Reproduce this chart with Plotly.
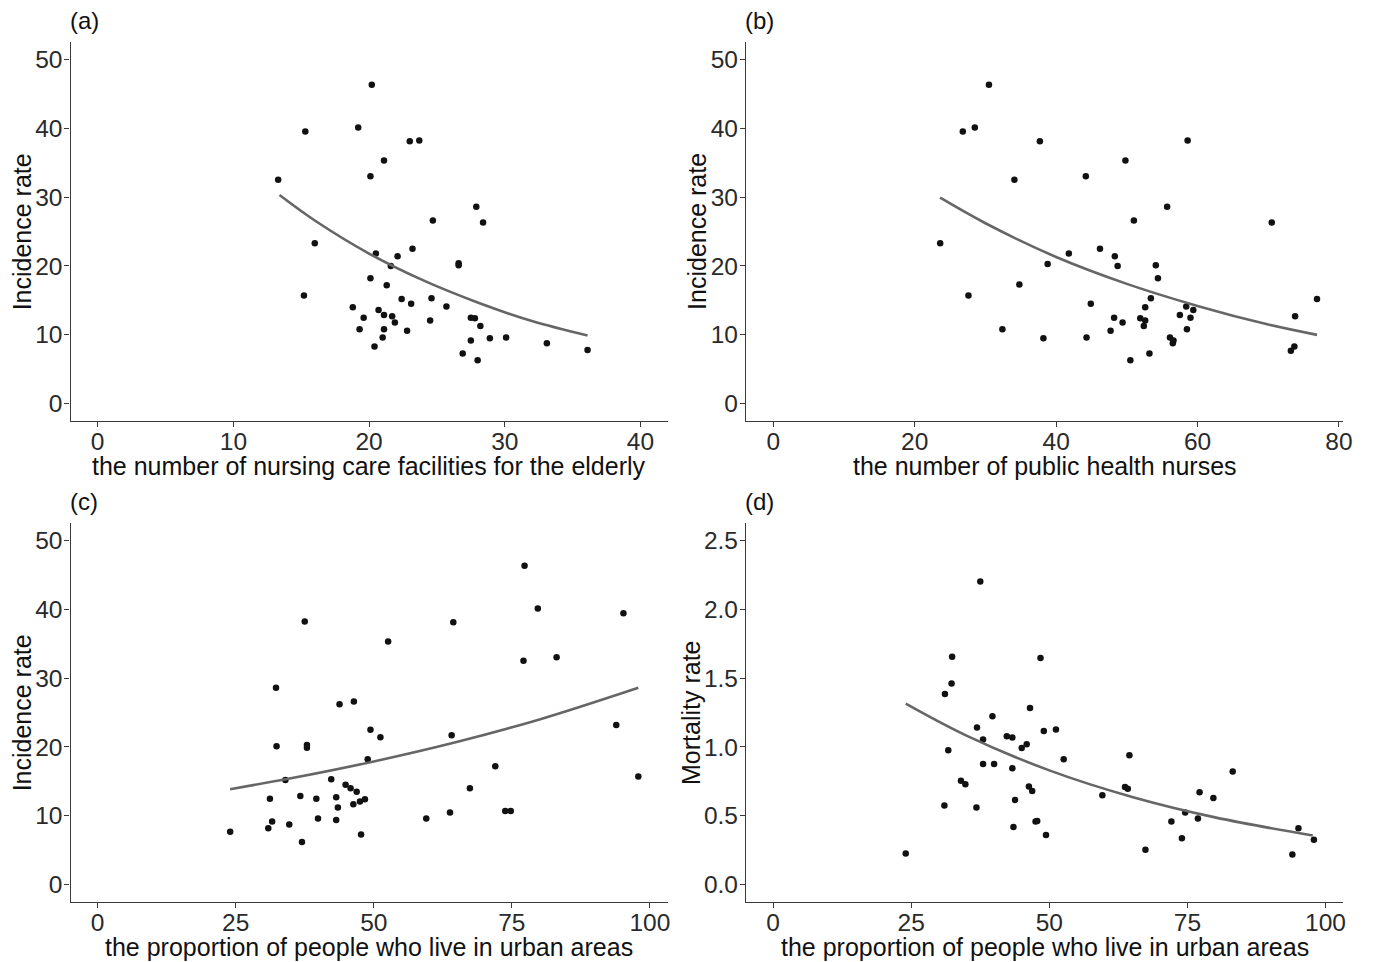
import plotly.graph_objects as go

# ---------------- data ----------------
# (a) nursing care facilities vs incidence rate
a_x = [20.2, 15.3, 19.2, 23.0, 23.7, 21.1, 20.1, 13.3, 27.9, 28.4, 24.7, 16.0, 20.5, 22.1,
       23.2, 21.6, 26.6, 26.6, 20.1, 21.3, 15.2, 22.4, 23.1, 24.6, 25.7, 18.8, 19.6, 20.7,
       21.1, 21.7, 21.9, 19.3, 21.1, 21.0, 20.4, 22.8, 24.5, 27.5, 27.8, 28.2, 27.5, 28.9,
       30.1, 26.9, 28.0, 33.1, 36.1]
a_y = [46.3, 39.5, 40.1, 38.1, 38.2, 35.3, 33.0, 32.5, 28.6, 26.3, 26.6, 23.3, 21.8, 21.4,
       22.5, 20.0, 20.4, 20.1, 18.2, 17.2, 15.7, 15.2, 14.5, 15.3, 14.1, 14.0, 12.5, 13.6,
       12.9, 12.7, 11.8, 10.8, 10.8, 9.6, 8.3, 10.6, 12.1, 12.5, 12.4, 11.3, 9.2, 9.5,
       9.6, 7.3, 6.3, 8.8, 7.8]
a_curve_x = [13.4, 16.0, 20.0, 24.0, 28.0, 32.0, 36.1]
a_curve_y = [30.3, 26.6, 21.8, 17.9, 14.7, 12.0, 9.9]

# (b) public health nurses vs incidence rate
b_x = [30.5, 26.8, 28.5, 37.7, 58.6, 49.8, 44.2, 34.1, 55.7, 70.5, 51.0, 23.6, 41.8, 46.2,
       48.3, 38.8, 54.1, 48.7, 54.4, 34.8, 27.6, 76.9, 53.4, 44.9, 52.6, 58.4, 59.4, 57.5,
       59.0, 73.8, 48.2, 51.9, 52.6, 49.4, 52.4, 32.4, 58.5, 47.7, 38.2, 44.3, 56.1, 56.6,
       56.5, 73.7, 73.2, 53.2, 50.5]
b_y = [46.3, 39.5, 40.1, 38.1, 38.2, 35.3, 33.0, 32.5, 28.6, 26.3, 26.6, 23.3, 21.8, 22.5,
       21.4, 20.3, 20.1, 20.0, 18.2, 17.3, 15.7, 15.2, 15.3, 14.5, 14.0, 14.1, 13.6, 12.9,
       12.5, 12.7, 12.5, 12.4, 12.1, 11.8, 11.3, 10.8, 10.8, 10.6, 9.5, 9.6, 9.6, 9.2,
       8.8, 8.3, 7.7, 7.3, 6.3]
b_curve_x = [23.6, 30.0, 40.0, 50.0, 60.0, 70.0, 76.9]
b_curve_y = [29.9, 26.2, 21.3, 17.4, 14.2, 11.5, 10.0]

# (c) urban proportion vs incidence rate
c_x = [77.3, 79.7, 95.2, 37.5, 64.4, 52.6, 83.1, 77.1, 32.3, 46.4, 43.8, 93.9, 49.4, 64.1,
       51.2, 32.4, 37.9, 37.9, 48.9, 72.0, 97.9, 34.0, 42.3, 44.9, 45.8, 46.9, 67.4, 31.2,
       36.7, 39.6, 43.2, 48.4, 47.5, 46.3, 43.5, 73.8, 74.8, 63.8, 39.9, 43.2, 59.5, 31.6,
       34.7, 30.9, 24.0, 47.7, 37.0]
c_y = [46.3, 40.1, 39.4, 38.2, 38.1, 35.3, 33.0, 32.5, 28.6, 26.6, 26.2, 23.2, 22.5, 21.7,
       21.4, 20.1, 20.3, 19.9, 18.2, 17.2, 15.7, 15.2, 15.3, 14.5, 14.0, 13.5, 14.0, 12.5,
       12.9, 12.5, 12.7, 12.4, 12.1, 11.7, 11.2, 10.7, 10.7, 10.5, 9.6, 9.4, 9.6, 9.2,
       8.75, 8.2, 7.7, 7.3, 6.2]
c_curve_x = [24.0, 35.0, 50.0, 65.0, 80.0, 97.9]
c_curve_y = [13.87, 15.45, 17.9, 20.72, 24.0, 28.6]

# (d) urban proportion vs mortality rate
d_x = [37.5, 32.4, 48.4, 32.3, 31.1, 46.5, 39.7, 49.0, 51.2, 36.9, 38.0, 42.3, 43.3, 45.9,
       45.0, 31.7, 64.5, 52.6, 38.0, 40.0, 43.3, 83.2, 34.0, 34.8, 63.7, 64.2, 46.3, 46.9,
       77.2, 59.6, 79.7, 43.8, 31.0, 36.8, 74.6, 76.9, 72.1, 47.5, 47.8, 43.5, 95.1, 49.4,
       74.0, 97.9, 67.4, 24.0, 94.0]
d_y = [2.20, 1.655, 1.645, 1.46, 1.384, 1.283, 1.222, 1.116, 1.126, 1.141, 1.054, 1.078,
       1.068, 1.02, 0.993, 0.976, 0.94, 0.911, 0.877, 0.877, 0.846, 0.822, 0.754, 0.730,
       0.710, 0.696, 0.713, 0.681, 0.672, 0.65, 0.63, 0.616, 0.575, 0.561, 0.525, 0.481,
       0.459, 0.459, 0.462, 0.42, 0.411, 0.362, 0.338, 0.326, 0.254, 0.227, 0.22]
d_curve_x = [24.0, 35.0, 50.0, 65.0, 80.0, 97.7]
d_curve_y = [1.314, 1.082, 0.830, 0.637, 0.489, 0.358]

panel_labels = ["(a)", "(b)", "(c)", "(d)"]
x_titles = ["the number of nursing care facilities for the elderly",
            "the number of public health nurses",
            "the proportion of people who live in urban areas",
            "the proportion of people who live in urban areas"]
y_titles = ["Incidence rate", "Incidence rate", "Incidence rate", "Mortality rate"]
x_ticks = [[0, 10, 20, 30, 40], [0, 20, 40, 60, 80], [0, 25, 50, 75, 100], [0, 25, 50, 75, 100]]
y_ticks = [[0, 10, 20, 30, 40, 50]] * 3 + [[0.0, 0.5, 1.0, 1.5, 2.0, 2.5]]

# ---------------- layout geometry ----------------
W, H = 1379, 962
FONT = "Liberation Sans, Arial, Helvetica, sans-serif"
cols_px = [(71, 672), (751, 1352)]
rows_px = [(42, 421), (523, 902)]
x_ranges = [[-2.0, 42.0], [-3.85, 80.6], [-4.9, 103.2], [-4.9, 103.2]]
y_ranges = [[-2.5, 52.5], [-2.5, 52.5], [-2.5, 52.5], [-0.125, 2.625]]
ytitle_offset = [49, 50, 49, 56]

data = [(a_x, a_y, a_curve_x, a_curve_y), (b_x, b_y, b_curve_x, b_curve_y),
        (c_x, c_y, c_curve_x, c_curve_y), (d_x, d_y, d_curve_x, d_curve_y)]

fig = go.Figure()
annotations = []
for i, (px, py, cx, cy) in enumerate(data):
    r, c = divmod(i, 2)
    sfx = "" if i == 0 else str(i + 1)
    fig.add_trace(go.Scatter(x=px, y=py, mode="markers", xaxis="x" + sfx, yaxis="y" + sfx,
                             marker=dict(size=6.5, color="#111111"), showlegend=False))
    fig.add_trace(go.Scatter(x=cx, y=cy, mode="lines", xaxis="x" + sfx, yaxis="y" + sfx,
                             line=dict(color="#666666", width=2.6, shape="spline"),
                             showlegend=False))
    x0, x1 = cols_px[c]
    y0, y1 = rows_px[r]
    axis_common = dict(showline=True, linecolor="#3a3a3a", linewidth=1.4, showgrid=False,
                       zeroline=False, ticks="outside", ticklen=5, tickwidth=1.3,
                       tickcolor="#3a3a3a",
                       tickfont=dict(family=FONT, size=24.5, color="#2a2a2a"))
    fig.update_layout(**{
        "xaxis" + sfx: dict(domain=[x0 / W, x1 / W], range=x_ranges[i], anchor="y" + sfx,
                            tickvals=x_ticks[i], ticklabelstandoff=-7, **axis_common),
        "yaxis" + sfx: dict(domain=[1 - y1 / H, 1 - y0 / H], range=y_ranges[i],
                            anchor="x" + sfx, tickvals=y_ticks[i], ticklabelstandoff=-3,
                            tickformat=".1f" if i == 3 else "d", **axis_common),
    })
    # panel label
    annotations.append(dict(text=panel_labels[i], x=(x0 - 3) / W, y=1 - (y0 - 22) / H,
                            xref="paper", yref="paper", xanchor="left", yanchor="middle",
                            showarrow=False, font=dict(family=FONT, size=24, color="#111111")))
    # x title
    annotations.append(dict(text=x_titles[i], x=(x0 + x1) / 2 / W, y=1 - (y1 + 45) / H,
                            xref="paper", yref="paper", xanchor="center", yanchor="middle",
                            showarrow=False, font=dict(family=FONT, size=25, color="#111111")))
    # y title
    annotations.append(dict(text=y_titles[i], x=(x0 - ytitle_offset[i]) / W,
                            y=1 - (y0 + y1) / 2 / H,
                            xref="paper", yref="paper", xanchor="center", yanchor="middle",
                            textangle=-90, showarrow=False,
                            font=dict(family=FONT, size=25, color="#111111")))

fig.update_layout(width=W, height=H, margin=dict(l=0, r=0, t=0, b=0),
                  paper_bgcolor="white", plot_bgcolor="white", annotations=annotations,
                  font=dict(family=FONT))

fig.write_html("out.html", config={"displayModeBar": False},
               post_script="document.body.style.margin='0px';document.body.style.overflow='hidden';")
